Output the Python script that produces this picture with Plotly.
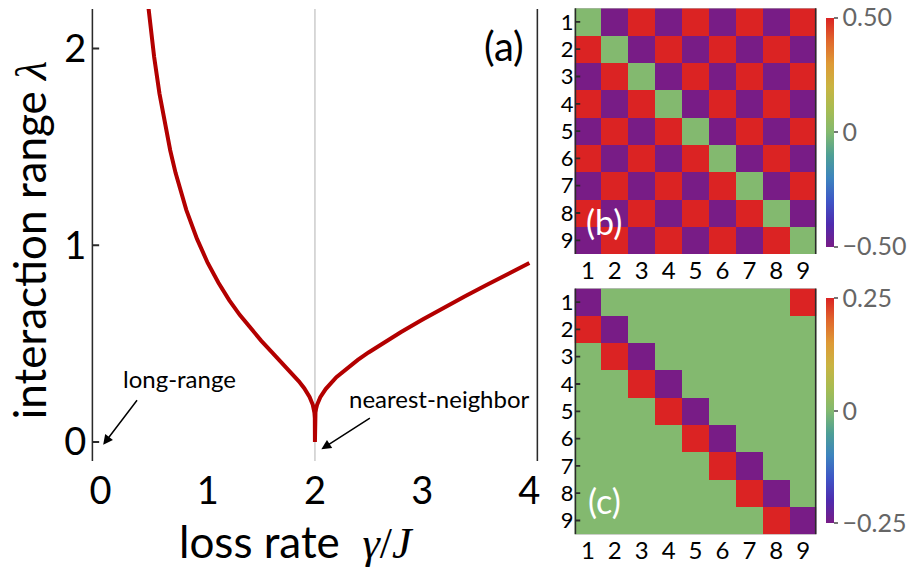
import plotly.graph_objects as go

# ---------------- data ----------------
gamma = [0.43, 0.45, 0.5, 0.55, 0.6, 0.65, 0.7, 0.75, 0.8, 0.9, 1.0, 1.1, 1.2, 1.3, 1.4,
         1.5, 1.6, 1.7, 1.8, 1.85, 1.9, 1.95, 1.98, 1.99, 1.995, 1.999, 2.0, 2.001, 2.005,
         2.01, 2.02, 2.05, 2.1, 2.2, 2.3, 2.4, 2.5, 2.6, 2.8, 3.0, 3.2, 3.4, 3.6, 3.8, 4.0]
lam = [2.289, 2.184, 1.958, 1.771, 1.615, 1.483, 1.368, 1.268, 1.180, 1.032, 0.910, 0.809,
       0.721, 0.645, 0.577, 0.514, 0.455, 0.398, 0.340, 0.308, 0.273, 0.229, 0.189, 0.167,
       0.150, 0.121, 0.0, 0.121, 0.150, 0.167, 0.189, 0.228, 0.269, 0.329, 0.376, 0.417,
       0.455, 0.491, 0.558, 0.621, 0.682, 0.741, 0.798, 0.855, 0.910]

x_ticks = [0, 1, 2, 3, 4]
y_ticks = [0, 1, 2]
sites = [1, 2, 3, 4, 5, 6, 7, 8, 9]

matrix_b = [
    [0, -0.5, 0.5, -0.5, 0.5, -0.5, 0.5, -0.5, 0.5],
    [0.5, 0, -0.5, 0.5, -0.5, 0.5, -0.5, 0.5, -0.5],
    [-0.5, 0.5, 0, -0.5, 0.5, -0.5, 0.5, -0.5, 0.5],
    [0.5, -0.5, 0.5, 0, -0.5, 0.5, -0.5, 0.5, -0.5],
    [-0.5, 0.5, -0.5, 0.5, 0, -0.5, 0.5, -0.5, 0.5],
    [0.5, -0.5, 0.5, -0.5, 0.5, 0, -0.5, 0.5, -0.5],
    [-0.5, 0.5, -0.5, 0.5, -0.5, 0.5, 0, -0.5, 0.5],
    [0.5, -0.5, 0.5, -0.5, 0.5, -0.5, 0.5, 0, -0.5],
    [-0.5, 0.5, -0.5, 0.5, -0.5, 0.5, -0.5, 0.5, 0],
]
matrix_c = [
    [-0.25, 0, 0, 0, 0, 0, 0, 0, 0.25],
    [0.25, -0.25, 0, 0, 0, 0, 0, 0, 0],
    [0, 0.25, -0.25, 0, 0, 0, 0, 0, 0],
    [0, 0, 0.25, -0.25, 0, 0, 0, 0, 0],
    [0, 0, 0, 0.25, -0.25, 0, 0, 0, 0],
    [0, 0, 0, 0, 0.25, -0.25, 0, 0, 0],
    [0, 0, 0, 0, 0, 0.25, -0.25, 0, 0],
    [0, 0, 0, 0, 0, 0, 0.25, -0.25, 0],
    [0, 0, 0, 0, 0, 0, 0, 0.25, -0.25],
]
cb_b_vals = [-0.5, 0, 0.5]
cb_b_text = ["\u22120.50", "0", "0.50"]
cb_c_vals = [-0.25, 0, 0.25]
cb_c_text = ["\u22120.25", "0", "0.25"]

# ---------------- style ----------------
FONT = "Lato"
W, H = 907, 568
rainbow = [
    [0.0, "#781C86"], [0.1, "#4F2BAE"], [0.2, "#3E56C6"], [0.3, "#3D84BE"],
    [0.4, "#4E9F95"], [0.5, "#83B96F"], [0.6, "#A7BC52"], [0.7, "#C9B442"],
    [0.8, "#DE9A36"], [0.9, "#E0672C"], [1.0, "#DB2323"],
]
frame = "#2a2a2a"

# panel boxes in pixels: (left, right, top, bottom) and axis ranges
box_a = (91, 546, 8, 462.5)
box_b = (582.7, 829.3, 7.3, 254.3)
box_c = (582.7, 829.3, 289, 536)
xr_a, yr_a = [-0.085, 4.084], [-0.097, 2.201]
xr_h, yr_h = [0.5, 9.5], [9.5, 0.5]


def px_x(p):
    return p / W


def px_y(p):
    return (H - p) / H


def dom_x(b):
    return [px_x(b[0]), px_x(b[1])]


def dom_y(b):
    return [px_y(b[3]), px_y(b[2])]


fig = go.Figure()

fig.add_trace(go.Scatter(
    x=gamma, y=lam, mode="lines",
    line=dict(color="#B30000", width=4),
    xaxis="x", yaxis="y", showlegend=False, hoverinfo="skip",
))


def cbar(top, bottom, vals, text):
    return dict(
        x=px_x(838.7), xanchor="left", xpad=0, ypad=0,
        thickness=8, thicknessmode="pixels",
        len=(bottom - top) / H, lenmode="fraction", y=px_y((top + bottom) / 2), yanchor="middle",
        tickvals=vals, ticktext=text, ticks="outside", ticklen=4, tickwidth=2,
        tickcolor="#777777", outlinewidth=0,
        tickfont=dict(family=FONT, size=25, color="#666666"),
    )


fig.add_trace(go.Heatmap(
    z=matrix_b, x=sites, y=sites, colorscale=rainbow, zmin=-0.5, zmax=0.5,
    xaxis="x2", yaxis="y2", colorbar=cbar(16.7, 246.7, cb_b_vals, cb_b_text),
))

fig.add_trace(go.Heatmap(
    z=matrix_c, x=sites, y=sites, colorscale=rainbow, zmin=-0.25, zmax=0.25,
    xaxis="x3", yaxis="y3", colorbar=cbar(299.3, 525, cb_c_vals, cb_c_text),
))


# ---- frame + inside ticks drawn as line traces inside each subplot (decoration) ----
def frame_trace(xa, ya, box, xr, yr, xt, yt, tlen_px):
    l, r, t, b = box
    ux = (xr[1] - xr[0]) / (r - l)        # data units per pixel (x)
    uy = (yr[1] - yr[0]) / (t - b)        # data units per pixel (y, signed)
    inset = 0.9
    x0, x1 = xr[0] + inset * ux, xr[1] - inset * ux
    y0, y1 = yr[0] + inset * uy, yr[1] - inset * uy
    xs = [x0, x1, x1, x0, x0, None]
    ys = [y0, y0, y1, y1, y0, None]
    for v in xt:
        xs += [v, v, None]
        ys += [y0, y0 + tlen_px * uy, None]
    for v in yt:
        xs += [x0, x0 + tlen_px * ux, None]
        ys += [v, v, None]
    return go.Scatter(x=xs, y=ys, mode="lines", line=dict(color=frame, width=1.8),
                      xaxis=xa, yaxis=ya, showlegend=False, hoverinfo="skip",
                      connectgaps=False)


fig.add_trace(frame_trace("x", "y", box_a, xr_a, yr_a, x_ticks, y_ticks, 7))
fig.add_trace(frame_trace("x2", "y2", box_b, xr_h, yr_h, sites, sites, 5))
fig.add_trace(frame_trace("x3", "y3", box_c, xr_h, yr_h, sites, sites, 5))

main_ax = dict(showgrid=False, zeroline=False, showline=False, ticks="",
               tickfont=dict(family=FONT, size=38, color="black"))
hm_ax = dict(showgrid=False, zeroline=False, showline=False, ticks="", tickvals=sites)

fig.update_layout(
    width=W, height=H, margin=dict(l=0, r=0, t=0, b=0),
    paper_bgcolor="white", plot_bgcolor="white",
    xaxis=dict(**main_ax, domain=dom_x(box_a), range=xr_a, tickvals=x_ticks, anchor="y",
               ticklabelstandoff=4),
    yaxis=dict(**main_ax, domain=dom_y(box_a), range=yr_a, tickvals=y_ticks, anchor="x",
               ticklabelstandoff=4),
    xaxis2=dict(**hm_ax, domain=dom_x(box_b), range=xr_h, anchor="y2",
                tickfont=dict(family=FONT, size=24, color="black")),
    yaxis2=dict(**hm_ax, domain=dom_y(box_b), range=yr_h, anchor="x2",
                tickfont=dict(family=FONT, size=22, color="black")),
    xaxis3=dict(**hm_ax, domain=dom_x(box_c), range=xr_h, anchor="y3",
                tickfont=dict(family=FONT, size=24, color="black")),
    yaxis3=dict(**hm_ax, domain=dom_y(box_c), range=yr_h, anchor="x3",
                tickfont=dict(family=FONT, size=22, color="black")),
    shapes=[dict(type="line", xref="x", yref="paper", x0=2, x1=2,
                 y0=px_y(box_a[3]), y1=px_y(box_a[2]),
                 line=dict(color="#CCCCCC", width=1.5), layer="below")],
)

math = "font-family:'Liberation Serif'"
ann = [
    dict(text="loss rate  <span style=\"%s\"><i>γ</i>/<i>J</i></span>" % math,
         xref="paper", yref="paper", x=px_x(300), y=px_y(543), showarrow=False,
         xanchor="center", yanchor="middle", font=dict(family=FONT, size=44, color="black")),
    dict(text="interaction range <span style=\"%s\"><i>λ</i></span>" % math,
         xref="paper", yref="paper", x=px_x(28), y=px_y(241), showarrow=False, textangle=-90,
         xanchor="center", yanchor="middle", font=dict(family=FONT, size=44, color="black")),
    dict(text="(a)", xref="paper", yref="paper", x=px_x(511), y=px_y(45), showarrow=False,
         xanchor="center", yanchor="middle", font=dict(family=FONT, size=40, color="black")),
    dict(text="long-range", xref="paper", yref="paper", x=px_x(181), y=px_y(380),
         showarrow=False, xanchor="center", yanchor="middle",
         font=dict(family=FONT, size=24, color="black")),
    dict(text="nearest-neighbor", xref="paper", yref="paper", x=px_x(445), y=px_y(400),
         showarrow=False, xanchor="center", yanchor="middle",
         font=dict(family=FONT, size=24, color="black")),
    dict(text="", xref="x", yref="y", x=0.025, y=-0.014, ax=35, ay=-46, showarrow=True,
         arrowhead=2, arrowsize=1.3, arrowwidth=1.5, arrowcolor="black"),
    dict(text="", xref="x", yref="y", x=2.06, y=-0.037, ax=50, ay=-32, showarrow=True,
         arrowhead=2, arrowsize=1.3, arrowwidth=1.5, arrowcolor="black"),
    dict(text="(b)", xref="paper", yref="paper", x=px_x(613), y=px_y(222), showarrow=False,
         xanchor="center", yanchor="middle", font=dict(family=FONT, size=34, color="white")),
    dict(text="(c)", xref="paper", yref="paper", x=px_x(613), y=px_y(502), showarrow=False,
         xanchor="center", yanchor="middle", font=dict(family=FONT, size=34, color="white")),
]
fig.update_layout(annotations=ann)

fig.write_html("out.html")
